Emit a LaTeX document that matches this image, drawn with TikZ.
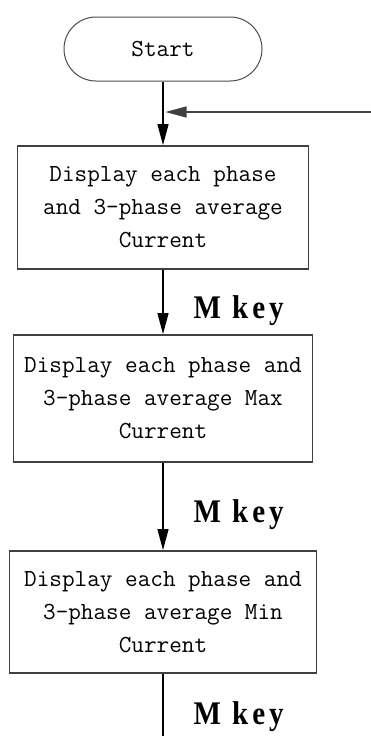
\documentclass[tikz,border=0pt]{standalone}
\usepackage{fontspec}
\usepackage{tikz}
\usetikzlibrary{arrows.meta, positioning}
\newfontfamily\keyfont[FakeStretch=0.88, LetterSpace=12]{Liberation Serif}

\begin{document}
\begin{tikzpicture}[x=1pt, y=-1pt, on grid, >={Triangle[length=21pt,width=11pt]},
        every node/.style={font=\ttfamily\fontsize{24.5}{33}\selectfont},
        terminal/.style={draw=black!70, line width=1pt, rounded corners=32pt,
            minimum width=198pt, minimum height=64pt, inner sep=0pt},
        phase/.style={draw=black!75, line width=1.8pt, align=center, inner sep=0pt,
            minimum height=123pt},
        mkey/.style={anchor=base west, xshift=30pt, inner sep=0pt,
            font=\keyfont\bfseries\fontsize{33}{33}\selectfont}]
        \useasboundingbox (0,0) rectangle (371,736);

        \node[terminal] (start) at (163,49) {Start};
        \node[phase, minimum width=291pt] (avg) [below=158.5pt of start]
            {Display each phase\\and 3-phase average\\Current};
        \node[phase, minimum width=299pt, minimum height=127pt] (max) [below=191pt of avg]
            {Display each phase and\\3-phase average Max\\Current};
        \node[phase, minimum width=307pt, minimum height=122pt] (min) [below=213.5pt of max]
            {Display each phase and\\3-phase average Min\\Current};

        \coordinate (loop) at (371,112);
        \coordinate (tail) at (163,736);

        \path[->, line width=1.2pt]
        (start) edge (avg)
        (avg) edge node[mkey, pos=.76] {M key} (max)
        (max) edge node[mkey, pos=.685] {M key} (min);
        \draw[line width=1.2pt] (min) -- node[mkey, pos=.81] {M key} (tail);

        \draw[->, draw=black!75, line width=1.2pt, shorten >=2.5pt] (loop) -- (loop -| start);
    \end{tikzpicture}
\end{document}
